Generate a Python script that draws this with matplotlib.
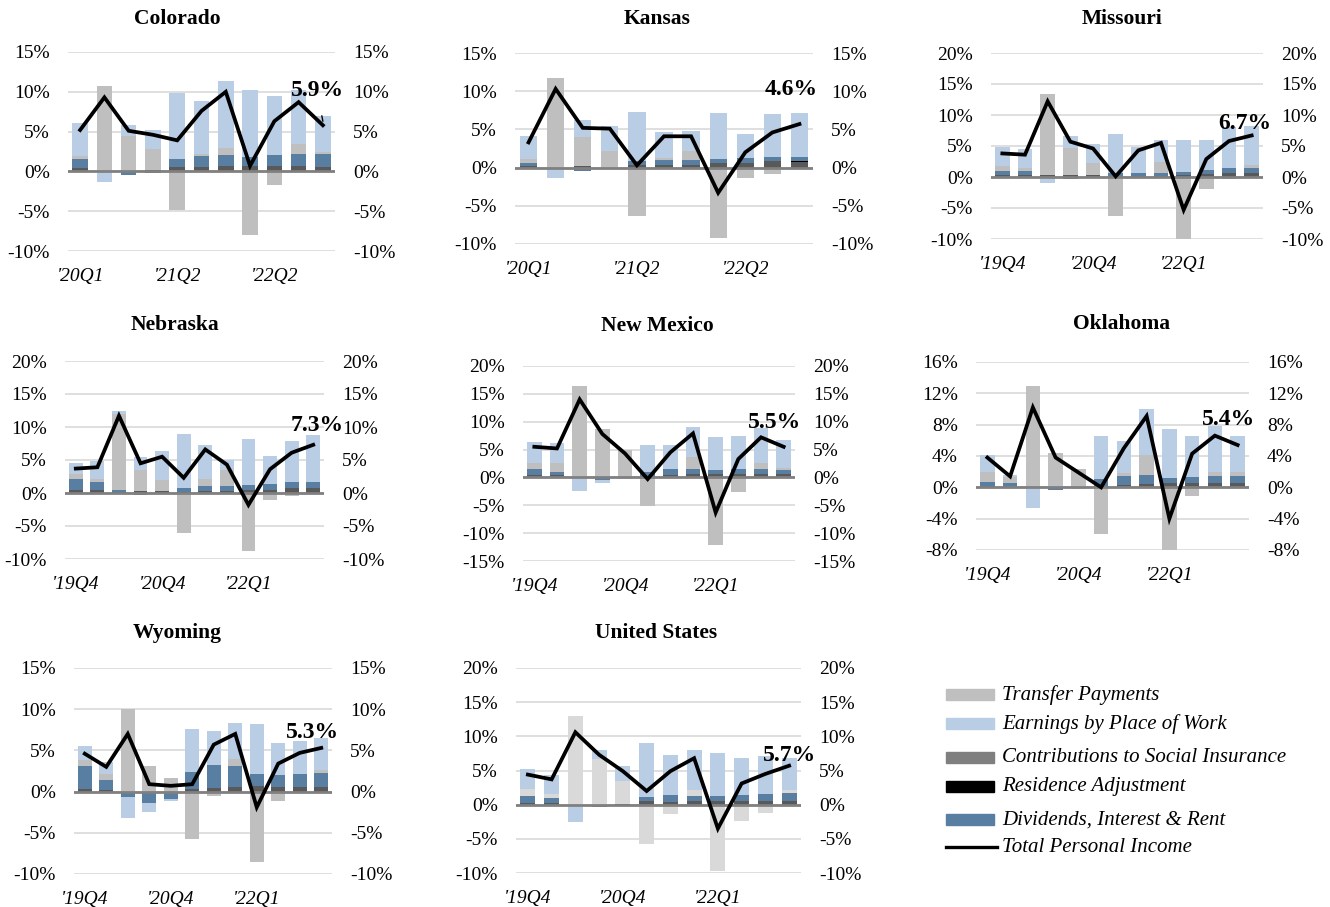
import numpy as np
import matplotlib
matplotlib.use("Agg")
import matplotlib.pyplot as plt
from matplotlib.patches import Rectangle
from matplotlib.lines import Line2D

plt.rcParams['font.family'] = ['Liberation Serif', 'DejaVu Serif']

# ---------------- DATA (percentage-point contributions to growth) ----------------
co_ticks = ["'20Q1", "", "", "", "'21Q2", "", "", "", "'22Q2", "", ""]
co_contrib   = [0.4, 0.0, 0.0, 0.2, 0.6, 0.5, 0.7, 0.7, 0.7, 0.7, 0.5]
co_residence = [0.0, 0.0, 0.0, 0.0, 0.0, 0.0, 0.0, 0.0, 0.0, 0.0, 0.0]
co_dividends = [1.2, 0.0, -0.5, -0.2, 0.9, 1.4, 1.3, 1.1, 1.4, 1.5, 1.7]
co_transfer  = [0.3, 10.7, 4.4, 2.6, -4.9, 0.3, 0.9, -8.0, -1.7, 1.2, 0.3]
co_earnings  = [4.2, -1.3, 1.4, 2.4, 8.3, 6.6, 8.5, 8.4, 7.4, 6.8, 4.5]
co_total     = [5.2, 9.3, 5.1, 4.6, 3.9, 7.6, 10.0, 0.7, 6.3, 8.7, 5.8]

ks_ticks = ["'20Q1", "", "", "", "'21Q2", "", "", "", "'22Q2", "", ""]
ks_contrib   = [0.2, 0.0, 0.2, 0.0, 0.3, 0.3, 0.3, 0.6, 0.6, 0.8, 0.7]
ks_residence = [0.0, -0.1, 0.0, 0.0, 0.1, 0.0, 0.0, 0.0, 0.0, 0.0, 0.1]
ks_dividends = [0.4, -0.1, -0.5, -0.2, 0.4, 0.7, 0.7, 0.5, 0.6, 0.6, 0.6]
ks_transfer  = [0.5, 11.7, 3.8, 2.2, -6.4, 0.2, 1.2, -9.2, -1.4, -0.9, -0.1]
ks_earnings  = [3.0, -1.1, 2.2, 3.3, 6.5, 3.4, 2.6, 6.0, 3.2, 5.6, 5.7]
ks_total     = [3.3, 10.3, 5.2, 5.1, 0.3, 4.1, 4.1, -3.3, 2.0, 4.6, 5.7]

mo_ticks = ["'19Q4", "", "", "", "'20Q4", "", "", "", "'22Q1", "", "", ""]
mo_contrib   = [0.3, 0.4, 0.3, 0.3, 0.3, 0.2, 0.2, 0.2, 0.3, 0.5, 0.7, 0.7]
mo_residence = [0.0, 0.0, 0.0, 0.0, 0.0, 0.0, 0.0, 0.0, 0.0, 0.0, 0.0, -0.2]
mo_dividends = [0.7, 0.6, 0.0, -0.3, 0.0, 0.4, 0.5, 0.5, 0.5, 0.7, 0.7, 0.8]
mo_transfer  = [0.8, 0.5, 13.1, 4.3, 1.9, -6.3, -0.1, 1.8, -10.3, -2.0, -0.3, 0.4]
mo_earnings  = [3.0, 3.0, -1.0, 2.0, 3.1, 6.4, 4.1, 3.5, 5.1, 4.8, 6.6, 6.4]
mo_total     = [3.8, 3.6, 12.2, 5.7, 4.6, 0.1, 4.3, 5.5, -5.3, 2.9, 5.8, 6.7]

ne_ticks = ["'19Q4", "", "", "", "'20Q4", "", "", "", "'22Q1", "", "", ""]
ne_contrib   = [0.4, 0.4, 0.2, 0.3, 0.3, 0.2, 0.3, 0.3, 0.5, 0.5, 0.7, 0.7]
ne_residence = [0.0, 0.0, 0.0, 0.0, 0.0, 0.0, 0.0, 0.0, 0.0, 0.0, 0.0, 0.0]
ne_dividends = [1.7, 1.3, 0.3, -0.3, -0.1, 0.6, 0.8, 0.8, 0.7, 0.9, 1.0, 1.0]
ne_transfer  = [0.8, 0.4, 11.5, 3.2, 1.7, -6.1, 1.0, 2.4, -8.8, -1.0, -0.5, 0.0]
ne_earnings  = [1.6, 2.7, 0.4, 2.0, 4.4, 8.1, 5.1, 1.5, 7.0, 4.2, 6.2, 7.1]
ne_total     = [3.7, 3.9, 11.7, 4.5, 5.5, 2.3, 6.6, 4.3, -1.8, 3.6, 6.1, 7.3]

nm_ticks = ["'19Q4", "", "", "", "'20Q4", "", "", "", "'22Q1", "", "", ""]
nm_contrib   = [0.4, 0.5, 0.0, 0.0, 0.0, 0.3, 0.5, 0.6, 0.6, 0.6, 0.7, 0.6]
nm_residence = [0.0, 0.0, 0.0, 0.0, 0.0, 0.0, 0.0, 0.0, 0.0, 0.0, 0.0, 0.0]
nm_dividends = [1.1, 0.5, 0.0, -0.5, 0.0, 0.6, 1.0, 0.9, 0.7, 0.9, 0.8, 0.7]
nm_transfer  = [1.1, 1.6, 16.5, 8.7, 4.9, -5.2, 0.0, 2.2, -12.1, -2.6, 1.1, 0.4]
nm_earnings  = [3.7, 3.6, -2.5, -0.5, -0.3, 4.9, 4.3, 5.4, 5.9, 5.9, 6.2, 5.1]
nm_total     = [5.5, 5.2, 14.0, 7.8, 4.3, -0.3, 4.5, 7.9, -6.3, 3.3, 7.2, 5.5]

ok_ticks = ["'19Q4", "", "", "", "'20Q4", "", "", "", "'22Q1", "", "", ""]
ok_contrib   = [0.2, 0.1, 0.0, 0.0, 0.0, 0.1, 0.3, 0.4, 0.5, 0.5, 0.6, 0.5]
ok_residence = [0.0, 0.0, 0.0, 0.0, 0.0, 0.0, 0.0, 0.0, 0.0, 0.0, 0.0, 0.0]
ok_dividends = [0.5, 0.5, 0.0, -0.4, 0.0, 1.0, 1.2, 1.2, 0.7, 0.8, 0.9, 0.9]
ok_transfer  = [1.2, 0.7, 12.9, 4.4, 2.3, -6.0, 0.3, 2.5, -8.3, -1.1, 0.4, 0.6]
ok_earnings  = [2.2, 0.3, -2.6, 0.0, -0.2, 5.5, 4.1, 5.9, 6.2, 5.2, 5.9, 4.5]
ok_total     = [3.8, 1.4, 10.2, 3.8, 1.9, 0.0, 5.0, 9.1, -4.0, 4.3, 6.6, 5.4]

wy_ticks = ["'19Q4", "", "", "", "'20Q4", "", "", "", "'22Q1", "", "", ""]
wy_contrib   = [0.3, 0.2, 0.0, 0.0, 0.0, 0.3, 0.4, 0.5, 0.7, 0.6, 0.6, 0.6]
wy_residence = [0.0, 0.0, 0.0, 0.0, 0.0, -0.1, -0.2, -0.2, 0.0, 0.0, 0.0, 0.0]
wy_dividends = [2.8, 1.2, -0.7, -1.4, -0.9, 2.1, 2.8, 2.6, 1.4, 1.4, 1.5, 1.6]
wy_transfer  = [0.7, 0.7, 10.0, 3.1, 1.7, -5.6, -0.3, 0.9, -8.5, -1.2, 0.0, 0.4]
wy_earnings  = [1.7, 1.5, -2.5, -1.1, -0.3, 5.2, 4.2, 4.3, 6.1, 3.9, 4.1, 3.9]
wy_total     = [4.6, 3.0, 7.0, 0.9, 0.7, 0.9, 5.7, 7.0, -1.9, 3.4, 4.7, 5.3]

us_ticks = ["'19Q4", "", "", "", "'20Q4", "", "", "", "'22Q1", "", "", ""]
us_contrib   = [0.3, 0.3, 0.0, 0.0, 0.1, 0.5, 0.4, 0.5, 0.5, 0.5, 0.6, 0.5]
us_residence = [0.0, 0.0, 0.0, 0.0, 0.0, 0.0, 0.0, 0.0, 0.0, 0.0, 0.0, 0.0]
us_dividends = [1.0, 0.7, 0.0, -0.4, -0.2, 0.6, 1.0, 0.8, 0.8, 0.9, 1.0, 1.2]
us_transfer  = [1.0, 0.6, 13.0, 6.7, 3.3, -5.7, -1.3, 0.9, -9.7, -2.4, -1.2, 0.4]
us_earnings  = [2.9, 2.7, -2.6, 1.3, 2.2, 7.9, 5.8, 5.8, 6.2, 5.4, 5.5, 4.8]
us_total     = [4.4, 3.7, 10.6, 7.3, 4.9, 2.0, 4.9, 6.8, -3.5, 3.1, 4.5, 5.7]

# label shown on each panel
panel_labels = {"Colorado": "5.9%", "Kansas": "4.6%", "Missouri": "6.7%", "Nebraska": "7.3%",
                "New Mexico": "5.5%", "Oklahoma": "5.4%", "Wyoming": "5.3%", "United States": "5.7%"}

series_names = ["Transfer Payments", "Earnings by Place of Work", "Contributions to Social Insurance",
                "Residence Adjustment", "Dividends, Interest & Rent", "Total Personal Income"]

# ---------------- STYLE / LAYOUT ----------------
C_TRANSFER = "#BFBFBF"
C_TRANSFER_US = "#D9D9D9"
C_EARN = "#B9CDE5"
C_CONTRIB = "#595959"
C_CONTRIB_LEG = "#7F7F7F"
C_RES = "#000000"
C_DIV = "#587EA1"

W, H = 1330, 907
fig = plt.figure(figsize=(W / 100, H / 100), dpi=100)


def px_axes(x0, x1, ytop, ybot):
    return [x0 / W, 1 - ybot / H, (x1 - x0) / W, (ybot - ytop) / H]


panels = [
    ("Colorado", (co_ticks, co_contrib, co_residence, co_dividends, co_transfer, co_earnings, co_total),
     px_axes(68, 335, 52, 251), (-10, 15, 5), (177, 19), (9.76, 10.2), (10.0, 6.3)),
    ("Kansas", (ks_ticks, ks_contrib, ks_residence, ks_dividends, ks_transfer, ks_earnings, ks_total),
     px_axes(515, 813, 53, 244), (-10, 15, 5), (657, 19), (9.7, 10.2), None),
    ("Missouri", (mo_ticks, mo_contrib, mo_residence, mo_dividends, mo_transfer, mo_earnings, mo_total),
     px_axes(991, 1263, 53, 239), (-10, 20, 5), (1122, 19), (10.7, 8.6), None),
    ("Nebraska", (ne_ticks, ne_contrib, ne_residence, ne_dividends, ne_transfer, ne_earnings, ne_total),
     px_axes(65, 324, 361, 559), (-10, 20, 5), (175, 325), (11.2, 10.2), None),
    ("New Mexico", (nm_ticks, nm_contrib, nm_residence, nm_dividends, nm_transfer, nm_earnings, nm_total),
     px_axes(523, 795, 366, 561), (-15, 20, 5), (657, 326), (10.6, 9.9), None),
    ("Oklahoma", (ok_ticks, ok_contrib, ok_residence, ok_dividends, ok_transfer, ok_earnings, ok_total),
     px_axes(976, 1249, 362, 550), (-8, 16, 4), (1122, 324), (10.6, 8.6), None),
    ("Wyoming", (wy_ticks, wy_contrib, wy_residence, wy_dividends, wy_transfer, wy_earnings, wy_total),
     px_axes(74, 332, 668, 874), (-10, 15, 5), (177, 633), (10.6, 7.2), None),
    ("United States", (us_ticks, us_contrib, us_residence, us_dividends, us_transfer, us_earnings, us_total),
     px_axes(516, 801, 668, 873), (-10, 20, 5), (656, 633), (11.0, 7.2), None),
]

BAR_W = 0.64

for name, data, rect, (ymin, ymax, step), title_px, lab_xy, leader_to in panels:
    ticks, contrib, residence, dividends, transfer, earnings, total = data
    n = len(total)
    x = np.arange(n)
    ax = fig.add_axes(rect)
    ax.set_xlim(-0.5, n - 0.5)
    ax.set_ylim(ymin, ymax)
    yt = np.arange(ymin, ymax + step / 2, step)
    ax.set_yticks(yt)
    ax.set_yticklabels([f"{int(v)}%" for v in yt])
    ax.yaxis.grid(True, color="#D9D9D9", linewidth=1.2, zorder=0)
    ax.set_axisbelow(True)
    for s in ax.spines.values():
        s.set_visible(False)
    ax.tick_params(axis="y", length=0, labelsize=14, labelleft=True, labelright=True,
                   pad=13, colors="#000000")
    ax.tick_params(axis="x", length=0, pad=12)
    ax.set_xticks(x)
    ax.set_xticklabels(ticks, fontsize=14, style="italic")

    tcol = C_TRANSFER_US if name == "United States" else C_TRANSFER
    comps = [(contrib, C_CONTRIB), (residence, C_RES), (dividends, C_DIV),
             (transfer, tcol), (earnings, C_EARN)]
    pos = np.zeros(n)
    neg = np.zeros(n)
    for vals, col in comps:
        v = np.asarray(vals, dtype=float)
        b = np.where(v >= 0, pos, neg)
        ax.bar(x, v, width=BAR_W, bottom=b, color=col, edgecolor="none", zorder=2)
        pos = pos + np.where(v >= 0, v, 0)
        neg = neg + np.where(v < 0, v, 0)
    ax.axhline(0, color="#808080", linewidth=2, zorder=3)
    ax.plot(x, total, color="black", linewidth=2.7, zorder=4, solid_joinstyle="miter")

    if leader_to is not None:
        ax.annotate(panel_labels[name], xy=leader_to, xytext=lab_xy, ha="center", va="center",
                    fontsize=17, fontweight="bold", zorder=5, annotation_clip=False,
                    arrowprops=dict(arrowstyle="-", color="black", lw=1, shrinkA=9, shrinkB=0))
    else:
        ax.text(lab_xy[0], lab_xy[1], panel_labels[name], ha="center", va="center",
                fontsize=17, fontweight="bold", zorder=5, clip_on=False)

    fig.text(title_px[0] / W, 1 - title_px[1] / H, name, ha="center", va="center",
             fontsize=15.5, fontweight="bold")

# ---------------- LEGEND ----------------
leg_colors = [C_TRANSFER, C_EARN, C_CONTRIB_LEG, C_RES, C_DIV]
leg_y = [695, 724, 758, 787, 820, 847]
for i, nm in enumerate(series_names):
    yc = leg_y[i]
    if i < 5:
        fig.patches.append(Rectangle((946 / W, 1 - (yc + 5) / H), 48 / W, 11 / H,
                                     transform=fig.transFigure, color=leg_colors[i], figure=fig))
    else:
        fig.lines.append(Line2D([946 / W, 997 / W], [1 - yc / H, 1 - yc / H],
                                transform=fig.transFigure, color="black", linewidth=2.4, figure=fig))
    fig.text(1002 / W, 1 - yc / H, nm, ha="left", va="center", fontsize=15, style="italic")

fig.savefig("out.png", dpi=100)
